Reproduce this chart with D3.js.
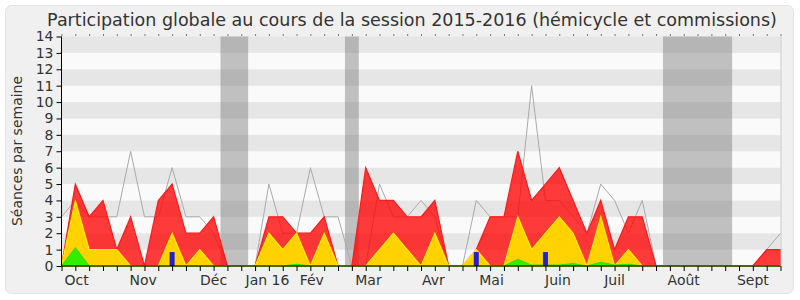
<!DOCTYPE html>
<html>
<head>
<meta charset="utf-8">
<script src="https://cdn.jsdelivr.net/npm/d3@7"></script>
<style>
  body { margin: 0; background: #fff; }
  svg { display: block; font-family: "DejaVu Sans", sans-serif; }
</style>
</head>
<body>
<div class="figure"></div>
<script>
// weeks of the session, 0 = end of Sept 2015, 52 = Sept 2016
const weeks = d3.range(53)
const presences = [0,5,3,4,1,3,0,4,5,2,2,3,0,0,0,3,3,2,2,3,0,0,6,4,4,3,3,4,0,0,1,3,3,7,4,5,6,4,2,4,1,3,3,0,0,0,0,0,0,0,0,1,1]
const commissions = [0,4,1,1,1,0,0,0,2,0,1,0,0,0,0,2,1,2,0,2,0,0,0,1,2,1,0,2,0,0,1,0,0,3,1,2,3,2,0,3,0,1,0,0,0,0,0,0,0,0,0,0,0]
const hemicycle = [0,1.1,0,0,0,0,0,0,0,0,0,0,0,0,0,0,0,0.1,0,0,0,0,0,0,0,0,0,0,0,0,0,0,0,0.4,0.05,0.05,0.05,0.15,0,0.22,0.05,0.1,0,0,0,0,0,0,0,0,0,0,0]
const questions = [0,0,0,0,0,0,0,0,0.85,0,0,0,0,0,0,0,0,0,0,0,0,0,0,0,0,0,0,0,0,0,0.85,0,0,0,0,0.85,0,0,0,0,0,0,0,0,0,0,0,0,0,0,0,0,0]
const mediane = [3,4,3,3,3,7,3,3,6,3,3,2,0,0,0,5,2,2,6,3,3,0,0,5,3,3,4,3,0,0,4,3,3,3,11,4,4,3,2,5,4,2,4,0,0,0,0,0,0,0,0,1,2]
const vacances = [12,13,21,44,45,46,47,48]
const months = ["Oct","Nov","Déc","Jan 16","Fév","Mar","Avr","Mai","Juin","Juil","Août","Sept"]
const monthWeeks = [1.1,5.9,11,14.9,18.1,22.2,26.9,31.1,35.9,40,45,50]

let width = 800
let height = 300

const svg = d3.select(".figure").append("svg")
    .attr("width", width)
    .attr("height", height)

svg.append("rect")
    .attr("x", 5.5).attr("y", 5.5)
    .attr("width", 788).attr("height", 288)
    .attr("rx", 6)
    .attr("fill", "#f0f0f0")
    .attr("stroke", "#e2e2e2")

const x = d3.scaleLinear().domain([0, 52]).range([61.5, 780.5])
const y = d3.scaleLinear().domain([0, 14]).range([266, 36.5])
const step = x(1) - x(0)

svg.append("text")
    .attr("x", 412)
    .attr("y", 26)
    .attr("text-anchor", "middle")
    .attr("font-size", 17.5)
    .attr("fill", "#333")
    .text("Participation globale au cours de la session 2015-2016 (hémicycle et commissions)")

// horizontal bands
svg.append("g").selectAll("rect")
    .data(d3.range(14))
    .join("rect")
    .attr("x", x(0))
    .attr("y", d => y(d + 1))
    .attr("width", x(52) - x(0))
    .attr("height", d => y(d) - y(d + 1))
    .attr("fill", d => d % 2 ? "#e6e6e6" : "#fafafa")

// group consecutive holiday weeks so the shading has no seams
let periods = []
vacances.forEach(w => {
    let last = periods[periods.length - 1]
    if (last && last[1] === w - 1) last[1] = w
    else periods.push([w, w])
})

svg.append("g").selectAll("rect")
    .data(periods)
    .join("rect")
    .attr("x", d => x(d[0] - 0.5))
    .attr("y", y(14))
    .attr("width", d => x(d[1] + 0.5) - x(d[0] - 0.5))
    .attr("height", y(0) - y(14))
    .attr("fill", "#7a7a7a")
    .attr("fill-opacity", 0.45)

svg.append("path")
    .datum(mediane)
    .attr("fill", "none")
    .attr("stroke", "#aaa")
    .attr("stroke-width", 1)
    .attr("d", d3.line().x((d, i) => x(i)).y(d => y(d)))

function drawArea(values, fill, opacity, stroke) {
    svg.append("path")
        .datum(values)
        .attr("fill", fill)
        .attr("fill-opacity", opacity)
        .attr("stroke", stroke)
        .attr("stroke-width", 1.2)
        .attr("d", d3.area().x((d, i) => x(i)).y0(y(0)).y1(d => y(d)))
}

drawArea(presences, "#ff0000", 0.77, "#ff1a1a")
drawArea(commissions, "#ffd200", 1, "#ffee00")
drawArea(hemicycle, "#33ee00", 1, "#33dd00")

svg.append("g").selectAll("rect")
    .data(weeks.filter(i => questions[i] > 0))
    .join("rect")
    .attr("x", i => x(i) - 2.5)
    .attr("y", i => y(questions[i]))
    .attr("width", 5)
    .attr("height", i => y(0) - y(questions[i]))
    .attr("fill", "#2222cc")

// axes
svg.append("line")
    .attr("x1", x(52) + 0.5).attr("x2", x(52) + 0.5)
    .attr("y1", y(14)).attr("y2", y(0))
    .attr("stroke", "#ccc")

const yAxis = svg.append("g")
    .attr("transform", `translate(${x(0)},0)`)
    .call(d3.axisLeft(y).ticks(14).tickSize(5).tickPadding(3))
yAxis.select(".domain").attr("stroke", "#000").attr("d", `M0,${y(14)}V${y(0)}`)
yAxis.selectAll("text").attr("font-size", 14).attr("font-family", "DejaVu Sans").attr("fill", "#333")

const xAxis = svg.append("g")
    .attr("transform", `translate(0,${y(0)})`)
    .call(d3.axisBottom(x).tickValues(weeks).tickSize(5).tickFormat(""))
xAxis.select(".domain").attr("stroke", "#000").attr("d", `M${x(0)},0H${x(52)}`)

svg.append("g").selectAll("line")
    .data(weeks)
    .join("line")
    .attr("x1", d => x(d) + 0.5).attr("x2", d => x(d) + 0.5)
    .attr("y1", y(14) - 2).attr("y2", y(14) - 1)
    .attr("stroke", "#000")

svg.append("g").selectAll("text")
    .data(months)
    .join("text")
    .attr("x", (d, i) => x(monthWeeks[i]))
    .attr("y", 285)
    .attr("text-anchor", "middle")
    .attr("font-size", 14)
    .attr("fill", "#333")
    .text(d => d)

svg.append("text")
    .attr("transform", "translate(22,151) rotate(-90)")
    .attr("text-anchor", "middle")
    .attr("font-size", 14)
    .attr("fill", "#333")
    .text("Séances par semaine")
</script>
</body>
</html>
